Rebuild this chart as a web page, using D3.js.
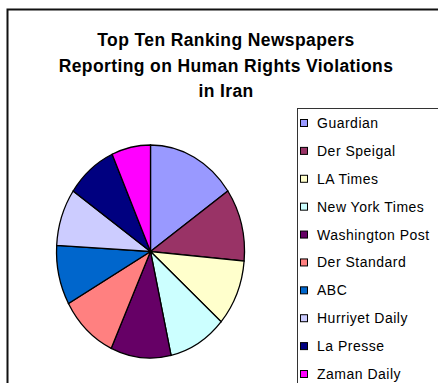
<!DOCTYPE html>
<html>
<head>
<meta charset="utf-8">
<script src="https://cdn.jsdelivr.net/npm/d3@7"></script>
<style>
  body { margin: 0; background: #fff; }
  svg { display: block; font-family: "Liberation Sans", Arial, sans-serif; }
</style>
</head>
<body>
<div id="chart"></div>
<script>
// data
var papers = ["Guardian", "Der Speigal", "LA Times", "New York Times", "Washington Post",
              "Der Standard", "ABC", "Hurriyet Daily", "La Presse", "Zaman Daily"];
var reports = [46, 33, 30, 30, 31, 30, 27, 26, 26, 20];
var colors = ["#9999ff", "#993366", "#ffffcc", "#ccffff", "#660066",
              "#ff8080", "#0066cc", "#ccccff", "#000080", "#ff00ff"];
var titleLines = ["Top Ten Ranking Newspapers", "Reporting on Human Rights Violations", "in Iran"];

var width = 438, height = 383;
var stretch = 1.1; // the original picture is a bit taller than wide

var svg = d3.select("#chart")
    .append("svg")
    .attr("width", width)
    .attr("height", height);

// outer chart frame (runs off the right and bottom)
svg.append("rect")
    .attr("x", 7.5).attr("y", 9.5)
    .attr("width", 460).attr("height", 400)
    .attr("fill", "#fff")
    .attr("stroke", "#111")
    .attr("stroke-width", 2);

// title
svg.append("g")
    .selectAll("text")
    .data(titleLines)
    .enter()
    .append("text")
    .attr("transform", function(d, i) {
        return "translate(226," + (46 + i * 25.5) + ") scale(1," + stretch + ")";
    })
    .attr("text-anchor", "middle")
    .attr("font-size", 17.5)
    .attr("letter-spacing", 0.4)
    .attr("font-weight", "bold")
    .attr("fill", "#000")
    .text(function(d) { return d; });

// pie - drawn as unit circle and stretched into an ellipse
var color = d3.scaleOrdinal().domain(papers).range(colors);

var pie = d3.pie().sort(null).value(function(d, i) { return reports[i]; });
var arc = d3.arc().innerRadius(0).outerRadius(1);

var pieG = svg.append("g")
    .attr("transform", "translate(150.5,251.5) scale(94,106.5)");

pieG.selectAll("path")
    .data(pie(papers))
    .enter()
    .append("path")
    .attr("d", arc)
    .attr("fill", function(d) { return color(d.data); })
    .attr("stroke", "#000")
    .attr("stroke-width", 1.3)
    .attr("vector-effect", "non-scaling-stroke");

// legend
var legend = svg.append("g");

legend.append("rect")
    .attr("x", 297.5).attr("y", 108.5)
    .attr("width", 200).attr("height", 300)
    .attr("fill", "#fff")
    .attr("stroke", "#333")
    .attr("stroke-width", 1);

var y = d3.scalePoint().domain(papers).range([123, 374]);

var items = legend.selectAll("g.item")
    .data(papers)
    .enter()
    .append("g")
    .attr("class", "item")
    .attr("transform", function(d) { return "translate(0," + y(d) + ")"; });

items.append("rect")
    .attr("x", 300.5).attr("y", -3.5)
    .attr("width", 7).attr("height", 7)
    .attr("fill", function(d) { return color(d); })
    .attr("stroke", "#000")
    .attr("stroke-width", 1);

items.append("text")
    .attr("transform", "translate(317,5) scale(1,1.03)")
    .attr("font-size", 14)
    .attr("letter-spacing", 0.5)
    .attr("fill", "#000")
    .text(function(d) { return d; });
</script>
</body>
</html>
